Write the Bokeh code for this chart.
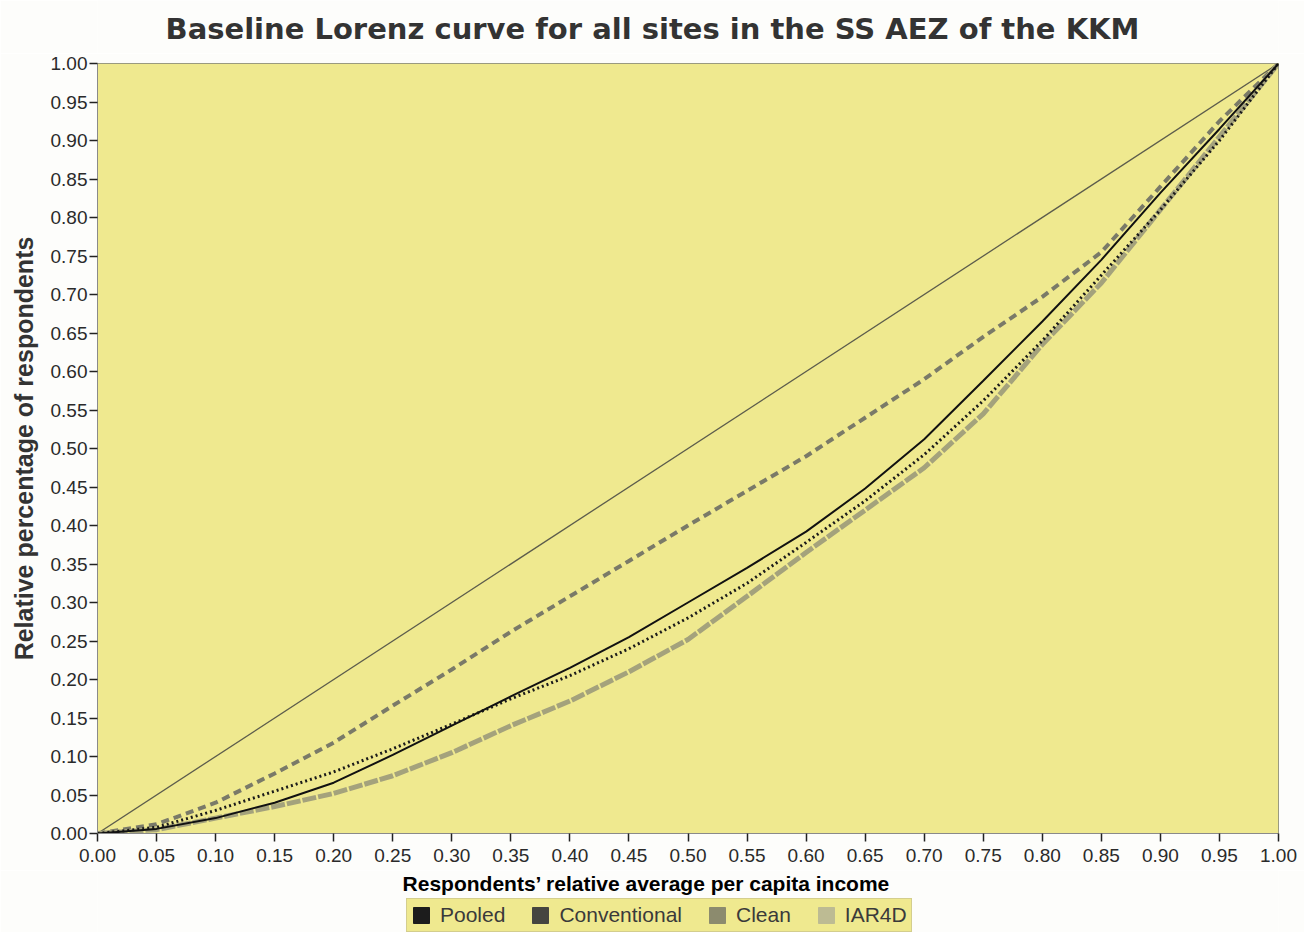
import numpy as np
from bokeh.plotting import figure
from bokeh.layouts import column
from bokeh.models import (Range1d, FixedTicker, PrintfTickFormatter, Legend, LegendItem,
                          Label)
from bokeh.embed import file_html
from bokeh.resources import INLINE

# ---- data ----
x_share = [0.00, 0.05, 0.10, 0.15, 0.20, 0.25, 0.30, 0.35, 0.40, 0.45, 0.50,
           0.55, 0.60, 0.65, 0.70, 0.75, 0.80, 0.85, 0.90, 0.95, 1.00]
equality = [0.0, 1.0]
equality_x = [0.0, 1.0]
pooled = [0.000, 0.006, 0.020, 0.040, 0.066, 0.102, 0.140, 0.178, 0.215, 0.255, 0.300,
          0.345, 0.392, 0.448, 0.512, 0.588, 0.665, 0.745, 0.832, 0.915, 1.000]
conventional = [0.000, 0.008, 0.030, 0.055, 0.080, 0.110, 0.142, 0.175, 0.205, 0.240, 0.280,
                0.325, 0.378, 0.432, 0.492, 0.562, 0.640, 0.725, 0.810, 0.900, 1.000]
clean = [0.000, 0.012, 0.040, 0.078, 0.118, 0.166, 0.213, 0.262, 0.308, 0.354, 0.400,
         0.445, 0.490, 0.540, 0.590, 0.645, 0.697, 0.755, 0.840, 0.925, 1.000]
iar4d = [0.000, 0.005, 0.020, 0.035, 0.052, 0.075, 0.105, 0.140, 0.172, 0.210, 0.252,
         0.308, 0.365, 0.420, 0.475, 0.545, 0.635, 0.715, 0.810, 0.905, 1.000]
series_names = ["Pooled", "Conventional", "Clean", "IAR4D"]
tick_values = [round(i * 0.05, 2) for i in range(21)]
title_text = "Baseline Lorenz curve for all sites in the SS AEZ of the KKM"
x_title = "Respondents\u2019 relative average per capita income"
y_title = "Relative percentage of respondents"

YELLOW = "#efe98f"
PAGE = "#fdfdfb"
LEFT, RIGHT, FW = 97, 26, 1181


def strip(height):
    f = figure(frame_width=FW, frame_height=height,
               x_range=Range1d(0, 1), y_range=Range1d(0, 1),
               x_axis_location=None, y_axis_location=None,
               output_backend="svg", toolbar_location=None,
               min_border_left=LEFT, min_border_right=RIGHT,
               min_border_top=0, min_border_bottom=0)
    f.title = None
    f.grid.visible = False
    f.outline_line_color = None
    f.background_fill_color = PAGE
    f.border_fill_color = PAGE
    return f


# ---- title strip ----
top = strip(53)
top.add_layout(Label(x=652 - LEFT, y=25, x_units="screen", y_units="screen",
                     text=title_text, text_align="center", text_baseline="middle",
                     text_font="DejaVu Sans", text_font_style="bold",
                     text_font_size="29px", text_color="#333333"))

# ---- main chart ----
p = figure(frame_width=FW, frame_height=770,
           x_range=Range1d(0, 1), y_range=Range1d(0, 1),
           output_backend="svg", toolbar_location=None,
           min_border_left=LEFT, min_border_right=RIGHT,
           min_border_top=10, min_border_bottom=37)
p.title = None
p.background_fill_color = YELLOW
p.border_fill_color = PAGE
p.outline_line_color = "#9a9a80"
p.grid.visible = False

p.line(equality_x, equality, line_color="#5c5c4c", line_width=1.3)
p.line(x_share, clean, line_color="#7a7a68", line_width=4, line_dash="8 5")
p.line(x_share, iar4d, line_color="#a4a27c", line_width=5, line_dash="14 2")
p.line(x_share, conventional, line_color="#1a1a1a", line_width=3, line_dash="2 3")
p.line(x_share, pooled, line_color="#111111", line_width=2)

for ax in (p.xaxis[0], p.yaxis[0]):
    ax.ticker = FixedTicker(ticks=tick_values)
    ax.formatter = PrintfTickFormatter(format="%.2f")
    ax.minor_tick_line_color = None
    ax.major_tick_out = 8
    ax.major_tick_in = 0
    ax.major_tick_line_color = "#222222"
    ax.major_tick_line_width = 1.5
    ax.axis_line_color = "#8a8a8a"
    ax.major_label_text_font = "Liberation Sans"
    ax.major_label_text_font_size = "19px"
    ax.major_label_text_color = "#2a2a2a"

p.xaxis.major_label_standoff = 7
p.yaxis.axis_label = y_title
p.yaxis.axis_label_text_font = "Liberation Sans"
p.yaxis.axis_label_text_font_style = "bold"
p.yaxis.axis_label_text_font_size = "25px"
p.yaxis.axis_label_text_color = "#333333"
p.yaxis.axis_label_standoff = 10
p.yaxis.major_label_standoff = 2

# ---- bottom strip: x-axis title and legend ----
bot = strip(62)
bot.add_layout(Label(x=646 - LEFT, y=49, x_units="screen", y_units="screen",
                     text=x_title, text_align="center", text_baseline="middle",
                     text_font="Liberation Sans", text_font_style="bold",
                     text_font_size="21px", text_color="#000000"))

swatch_colors = ["#1c1c1c", "#454540", "#8c8b6e", "#bdbb93"]
items = []
for name, col in zip(series_names, swatch_colors):
    r = bot.quad(left=[np.nan], right=[np.nan], top=[np.nan], bottom=[np.nan],
                 fill_color=col, line_color=col)
    items.append(LegendItem(label=name, renderers=[r]))

legend = Legend(items=items, orientation="horizontal", location=(406 - LEFT, 0),
                background_fill_color=YELLOW, background_fill_alpha=1.0,
                border_line_color="#b9b48c", border_line_width=1,
                label_text_font="Liberation Sans", label_text_font_size="21px",
                label_text_color="#3a3a3a", label_height=20,
                glyph_width=20, glyph_height=20, label_standoff=9,
                spacing=25, padding=4, margin=0)
bot.add_layout(legend, "center")

layout = column(top, p, bot, spacing=0)
open("out.html", "w").write(file_html(layout, INLINE))
